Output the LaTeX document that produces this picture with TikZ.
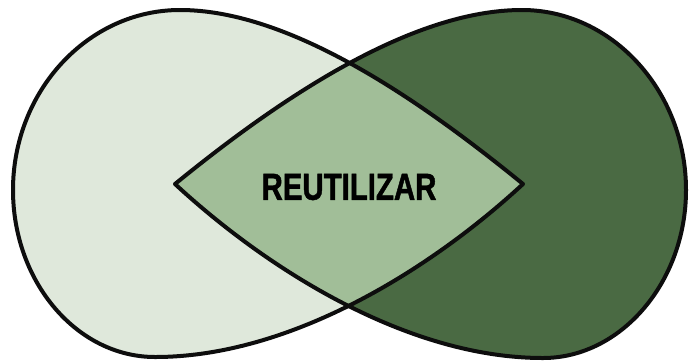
\documentclass[tikz,border=0pt]{standalone}
\usepackage{fontspec}
\newfontfamily\cond[FakeStretch=0.78,FakeBold=1.2]{Liberation Sans}
\definecolor{lightg}{RGB}{223,232,219}
\definecolor{midg}{RGB}{161,190,152}
\definecolor{darkg}{RGB}{74,106,67}
\begin{document}
\begin{tikzpicture}[x=1pt,y=-1pt,
  outline/.style={draw=black!95,line width=4pt,line join=round}]
\useasboundingbox (0,0) rectangle (690,362);
\fill[white] (0,0) rectangle (690,362);
\def\leftdrop{(523,184) .. controls (420,100) and (290,10) .. (180,10)
  .. controls (88,10) and (13,91) .. (13,190)
  .. controls (13,282) and (77,357) .. (155,357)
  .. controls (290,357) and (430,270) .. cycle}
\def\rightdrop{(175,184) .. controls (278,100) and (410,10) .. (522,10)
  .. controls (612,10) and (686,91) .. (686,190)
  .. controls (686,282) and (621,358) .. (543,358)
  .. controls (408,358) and (268,270) .. cycle}
\path[fill=lightg] \leftdrop;
\path[fill=darkg] \rightdrop;
\begin{scope}
  \clip \leftdrop;
  \path[fill=midg] \rightdrop;
\end{scope}
\path[outline] \leftdrop;
\path[outline] \rightdrop;
\node (label) at (349,187) {\cond\bfseries\fontsize{37.7}{40}\selectfont REUTILIZAR};
\end{tikzpicture}
\end{document}
